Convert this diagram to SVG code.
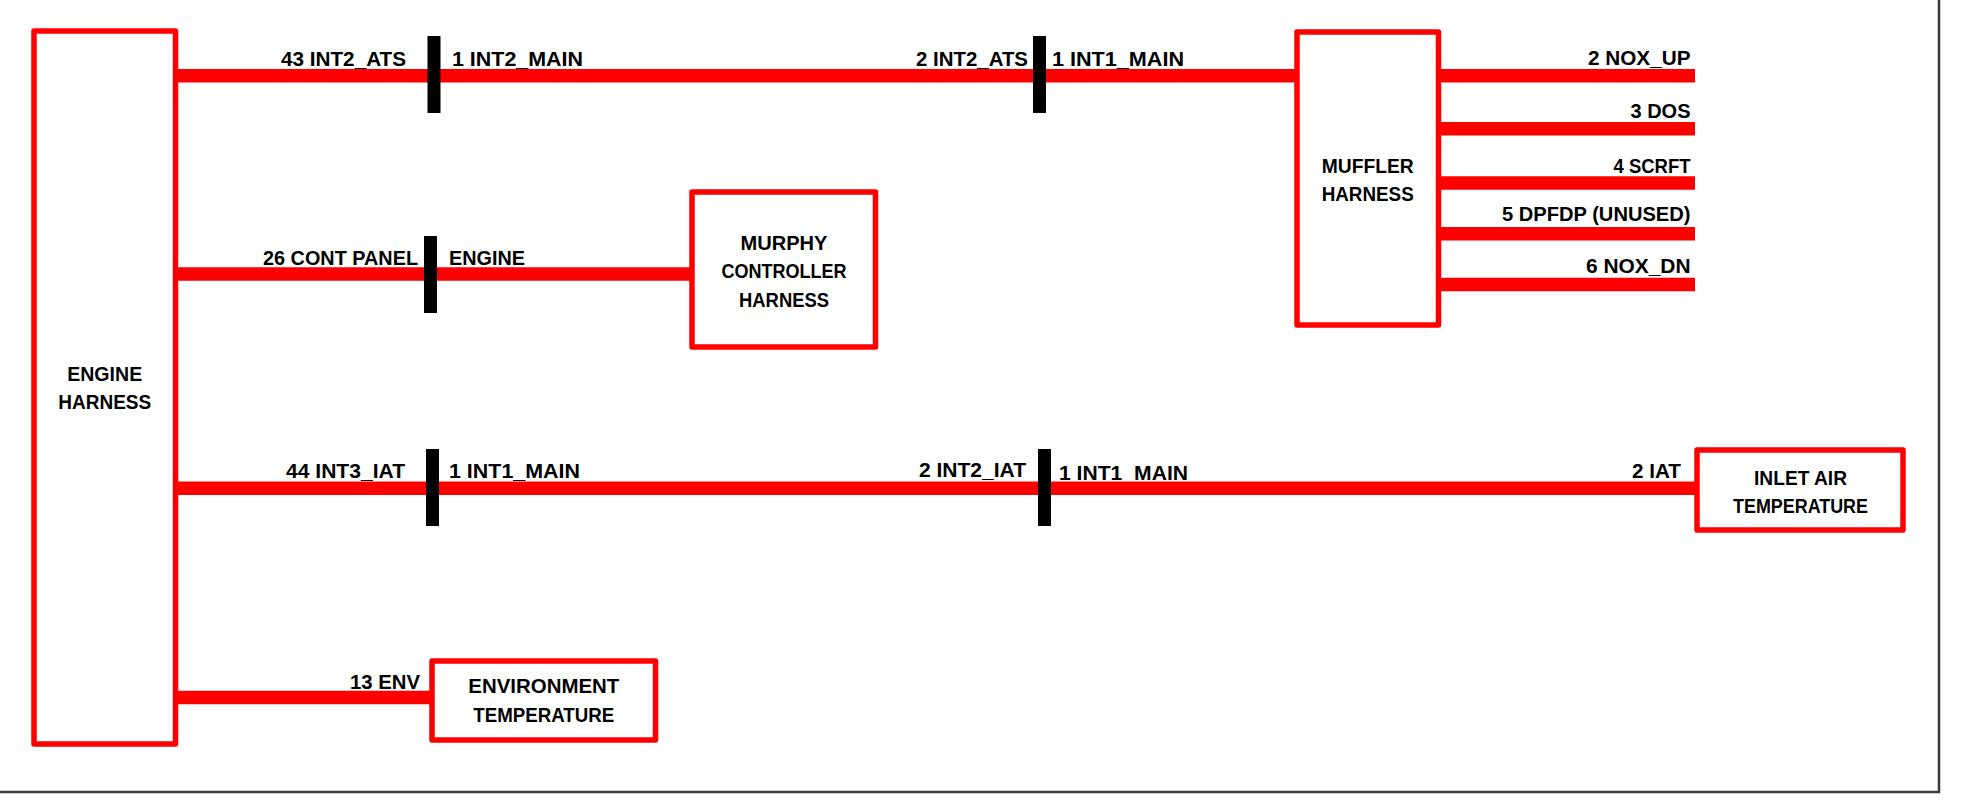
<svg xmlns="http://www.w3.org/2000/svg" width="1961" height="804" viewBox="0 0 1961 804">
  <defs>
    <style>
      .box { fill: #ffffff; stroke: #ff0000; stroke-width: 5.5; stroke-linejoin: round; }
      .wire { stroke: #ff0000; stroke-width: 13.5; fill: none; }
      .plug { fill: #000000; }
      .frame { stroke: #3a3a3a; stroke-width: 2.5; fill: none; }
      text { font-family: "Liberation Sans", Arial, sans-serif; font-weight: bold; font-size: 20px; fill: #000000; }
      .mid { text-anchor: middle; }
    </style>
  </defs>

  <rect x="0" y="0" width="1961" height="804" fill="#ffffff"/>

  <!-- sheet border (right and bottom edges) -->
  <g id="frame">
    <polyline class="frame" points="0,792 1939,792 1939,0"/>
  </g>

  <!-- pin / connector labels sit under the wires so low underscores tuck behind them -->
  <g id="wire-labels">
    <text x="281" y="65.5" textLength="125" lengthAdjust="spacingAndGlyphs">43 INT2_ATS</text>
    <text x="452" y="65.5" textLength="131" lengthAdjust="spacingAndGlyphs">1 INT2_MAIN</text>
    <text x="916" y="65.5" textLength="112" lengthAdjust="spacingAndGlyphs">2 INT2_ATS</text>
    <text x="1052" y="65.5" textLength="132" lengthAdjust="spacingAndGlyphs">1 INT1_MAIN</text>

    <text x="263" y="265" textLength="155" lengthAdjust="spacingAndGlyphs">26 CONT PANEL</text>
    <text x="449" y="265" textLength="76" lengthAdjust="spacingAndGlyphs">ENGINE</text>

    <text x="286" y="477.5" textLength="119" lengthAdjust="spacingAndGlyphs">44 INT3_IAT</text>
    <text x="449" y="477.5" textLength="131" lengthAdjust="spacingAndGlyphs">1 INT1_MAIN</text>
    <text x="919" y="476.5" textLength="107" lengthAdjust="spacingAndGlyphs">2 INT2_IAT</text>
    <text x="1059" y="479.5" textLength="129" lengthAdjust="spacingAndGlyphs">1 INT1_MAIN</text>
    <text x="1632" y="478" textLength="49" lengthAdjust="spacingAndGlyphs">2 IAT</text>

    <text x="350" y="689" textLength="70" lengthAdjust="spacingAndGlyphs">13 ENV</text>

    <text x="1588" y="65" textLength="102.5" lengthAdjust="spacingAndGlyphs">2 NOX_UP</text>
    <text x="1630.5" y="118" textLength="60" lengthAdjust="spacingAndGlyphs">3 DOS</text>
    <text x="1613.5" y="172.5" textLength="77" lengthAdjust="spacingAndGlyphs">4 SCRFT</text>
    <text x="1502" y="221" textLength="188.5" lengthAdjust="spacingAndGlyphs">5 DPFDP (UNUSED)</text>
    <text x="1586" y="273" textLength="104.5" lengthAdjust="spacingAndGlyphs">6 NOX_DN</text>
  </g>

  <!-- harness wires and inline mating connectors -->
  <g id="connectors">
    <line class="wire" x1="176" y1="75.7" x2="1297" y2="75.7"/>
    <line class="wire" x1="176" y1="274" x2="692" y2="274"/>
    <line class="wire" x1="176" y1="488.3" x2="1697" y2="488.3"/>
    <line class="wire" x1="176" y1="697.5" x2="432" y2="697.5"/>

    <line class="wire" x1="1438" y1="75.7" x2="1695" y2="75.7"/>
    <line class="wire" x1="1438" y1="128.7" x2="1695" y2="128.7"/>
    <line class="wire" x1="1438" y1="183" x2="1695" y2="183"/>
    <line class="wire" x1="1438" y1="233.7" x2="1695" y2="233.7"/>
    <line class="wire" x1="1438" y1="284.5" x2="1695" y2="284.5"/>

    <rect class="plug" x="427.5" y="36" width="13" height="77"/>
    <rect class="plug" x="1033" y="36" width="13" height="77"/>
    <rect class="plug" x="424" y="236" width="13" height="77"/>
    <rect class="plug" x="426" y="449" width="13" height="77"/>
    <rect class="plug" x="1038" y="449" width="13" height="77"/>
  </g>

  <g id="engine-harness">
    <rect class="box" x="34" y="31" width="141.5" height="713"/>
    <text class="mid" x="104.7" y="381" textLength="75" lengthAdjust="spacingAndGlyphs">ENGINE</text>
    <text class="mid" x="104.7" y="409" textLength="93" lengthAdjust="spacingAndGlyphs">HARNESS</text>
  </g>

  <g id="murphy-controller-harness">
    <rect class="box" x="692" y="192" width="183.5" height="155"/>
    <text class="mid" x="784" y="249.5" textLength="87" lengthAdjust="spacingAndGlyphs">MURPHY</text>
    <text class="mid" x="784" y="278" textLength="125" lengthAdjust="spacingAndGlyphs">CONTROLLER</text>
    <text class="mid" x="784" y="306.5" textLength="90" lengthAdjust="spacingAndGlyphs">HARNESS</text>
  </g>

  <g id="muffler-harness">
    <rect class="box" x="1297" y="32" width="141.5" height="293"/>
    <text class="mid" x="1367.7" y="172.7" textLength="92" lengthAdjust="spacingAndGlyphs">MUFFLER</text>
    <text class="mid" x="1367.7" y="200.7" textLength="92" lengthAdjust="spacingAndGlyphs">HARNESS</text>
  </g>

  <g id="inlet-air-temperature">
    <rect class="box" x="1697" y="450" width="206" height="80"/>
    <text class="mid" x="1800.5" y="485" textLength="93" lengthAdjust="spacingAndGlyphs">INLET AIR</text>
    <text class="mid" x="1800.5" y="512.7" textLength="135" lengthAdjust="spacingAndGlyphs">TEMPERATURE</text>
  </g>

  <g id="environment-temperature">
    <rect class="box" x="432" y="661" width="223.5" height="79"/>
    <text class="mid" x="543.8" y="693.3" textLength="151" lengthAdjust="spacingAndGlyphs">ENVIRONMENT</text>
    <text class="mid" x="543.8" y="721.7" textLength="141" lengthAdjust="spacingAndGlyphs">TEMPERATURE</text>
  </g>
</svg>
